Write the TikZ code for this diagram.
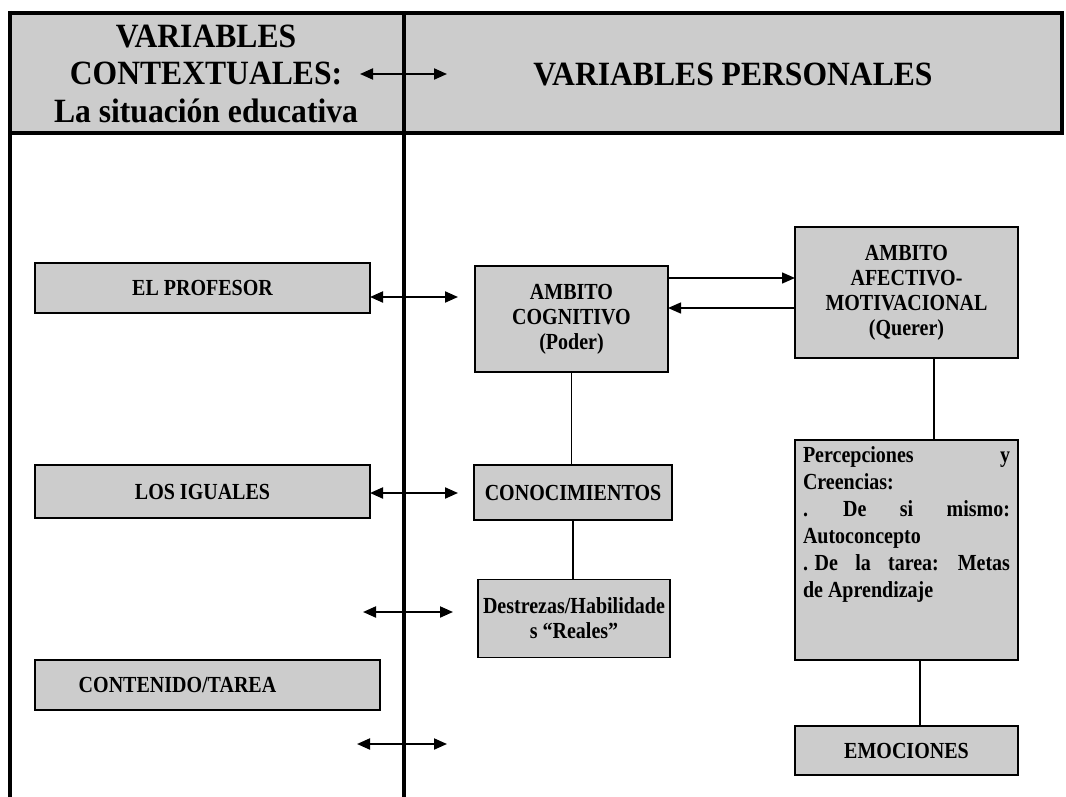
\documentclass[tikz,border=0pt]{standalone}
\usepackage{fontspec}
\setmainfont{Liberation Serif}
\newfontfamily\headfont[FakeStretch=0.93]{Liberation Serif}
\newfontfamily\boxfont[FakeStretch=0.87]{Liberation Serif}
\usetikzlibrary{arrows.meta}
\definecolor{boxgray}{gray}{0.80}
\tikzset{
  px/.style={x=1pt,y=-1pt},
  box/.style={draw=black, line width=1.4pt, fill=boxgray, inner sep=0pt, outer sep=0pt,
    font=\boxfont\fontsize{23}{25}\selectfont\bfseries, align=center},
  frame/.style={line width=4pt},
  link/.style={line width=1.4pt},
  dbl/.style={line width=2pt, {Triangle[length=13pt,width=11pt]}-{Triangle[length=13pt,width=11pt]}},
  one/.style={line width=1.4pt, -{Triangle[length=13pt,width=11pt]}},
  head/.style={font=\headfont\fontsize{34}{38}\selectfont\bfseries, inner sep=0pt}
}
\begin{document}
\begin{tikzpicture}[px]
\useasboundingbox (0,0) rectangle (1066,797);
% header
\fill[boxgray] (10,13) rectangle (1062,133);
\draw[frame] (10,13) -- (1062,13) -- (1062,133) -- (10,133);
\draw[frame] (10,11) -- (10,797);
\draw[frame] (404,11) -- (404,797);
\node[head] (h1) at (206,37) {VARIABLES};
\node[head] (h2) at (206,73) {CONTEXTUALES:};
\node[head] (h3) at (206,111) {La situación educativa};
\node[head] (h4) at (733,75) {VARIABLES PERSONALES};
\coordinate (ha) at (360,74);
\coordinate (hb) at (447,74);
\draw[dbl] (ha) -- (hb);

% left column
\node[box, minimum width=335pt, minimum height=50pt] (prof) at (202.5,288) {EL PROFESOR};
\node[box, minimum width=335pt, minimum height=53pt] (igu) at (202.5,491.5) {LOS IGUALES};
\node[box, minimum width=345pt, minimum height=50pt] (cont) at (207.5,685) {\hspace*{-60pt}CONTENIDO/TAREA};

% middle column
\node[box, minimum width=193pt, minimum height=106pt] (cog) at (571.5,319) {AMBITO\\COGNITIVO\\(Poder)};
\node[box, minimum width=198pt, minimum height=55pt] (con) at (573,492.5) {CONOCIMIENTOS};
\node[box, minimum width=192pt, minimum height=78pt] (des) at (574,618.5) {Destrezas/Habilidade\\s “Reales”};

% right column
\node[box, minimum width=223pt, minimum height=131pt] (afe) at (906.5,292.5) {AMBITO\\AFECTIVO-\\MOTIVACIONAL\\(Querer)};
\node[box, minimum width=223pt, minimum height=220pt, align=left] (per) at (906.5,550) {%
\begin{minipage}[c][206pt][t]{207pt}\boxfont\fontsize{23}{27}\selectfont\bfseries
\makebox[207pt][s]{Percepciones \hfill y}\\
Creencias:\\
\makebox[207pt][s]{. \hfill De \hfill si \hfill mismo:}\\
Autoconcepto\\
\makebox[207pt][s]{. De \hfill la \hfill tarea: \hfill Metas}\\
de Aprendizaje
\end{minipage}};
\node[box, minimum width=223pt, minimum height=49pt] (emo) at (906.5,750.5) {EMOCIONES};

% connectors
\coordinate (y1) at (0,278);
\coordinate (y2) at (0,308);
\draw[one] (cog.east |- y1) -- (afe.west |- y1);
\draw[one] (afe.west |- y2) -- (cog.east |- y2);
\draw[link] (cog.south) -- (cog.south |- con.north);
\draw[link] (con.south) -- (con.south |- des.north);
\coordinate (xa) at (934,0);
\coordinate (xb) at (920,0);
\draw[link] (afe.south -| xa) -- (per.north -| xa);
\draw[link] (per.south -| xb) -- (emo.north -| xb);

\coordinate (pa) at (458,297);
\draw[dbl] (prof.east |- pa) -- (pa);
\coordinate (ia) at (458,493);
\draw[dbl] (igu.east |- ia) -- (ia);
\coordinate (da) at (363,612);
\coordinate (db) at (453,612);
\draw[dbl] (da) -- (db);
\coordinate (ea) at (357,744);
\coordinate (eb) at (447,744);
\draw[dbl] (ea) -- (eb);
\end{tikzpicture}
\end{document}
